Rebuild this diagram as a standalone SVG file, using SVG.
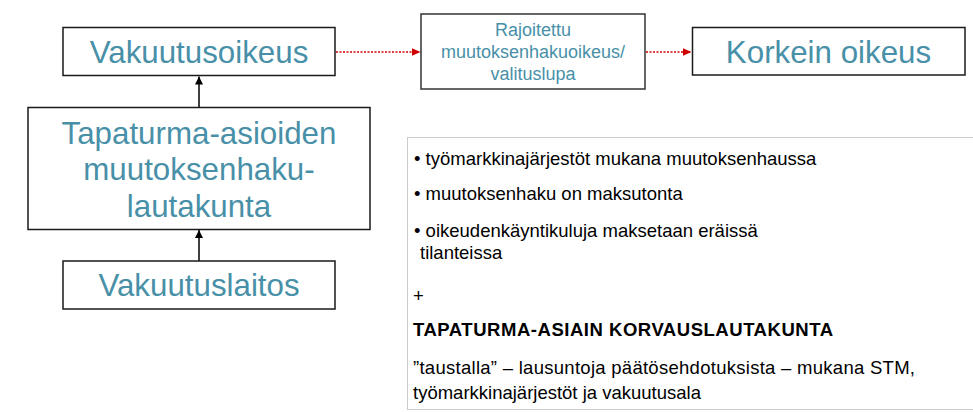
<svg xmlns="http://www.w3.org/2000/svg" width="973" height="412" viewBox="0 0 973 412">
<style>
.box{fill:#fff;stroke:#1a1a1a;stroke-width:1.5}
.big{font-family:"Liberation Sans",Arial,sans-serif;font-size:31.3px;fill:#4890A8;text-anchor:middle}
.mid{font-family:"Liberation Sans",Arial,sans-serif;font-size:18px;fill:#4890A8;text-anchor:middle}
.note{font-family:"Liberation Sans",Arial,sans-serif;font-size:18.5px;fill:#000}
.bold{font-weight:bold}
.up{stroke:#000;stroke-width:1.5;fill:none}
.red{stroke:#d00000;stroke-width:1.3;stroke-dasharray:2 1.5;fill:none}
</style>
<defs>
<marker id="ahBlack" viewBox="0 0 8 8" refX="8" refY="4" markerWidth="8" markerHeight="8" markerUnits="userSpaceOnUse" orient="auto">
<path d="M0,0 L8,4 L0,8 Z" fill="#000"/>
</marker>
<marker id="ahRed" viewBox="0 0 9 8" refX="9" refY="4" markerWidth="9" markerHeight="8" markerUnits="userSpaceOnUse" orient="auto">
<path d="M0,0 L9,4 L0,8 Z" fill="#d00000"/>
</marker>
</defs>
<rect width="973" height="412" fill="#fff"/>
<g id="connectors">
<line class="up" x1="199" y1="107" x2="199" y2="76.5" marker-end="url(#ahBlack)"/>
<line class="up" x1="199" y1="261" x2="199" y2="230" marker-end="url(#ahBlack)"/>
<line class="red" x1="336" y1="52" x2="420.5" y2="52" marker-end="url(#ahRed)"/>
<line class="red" x1="646" y1="52" x2="691.5" y2="52" marker-end="url(#ahRed)"/>
</g>
<g id="vakuutusoikeus">
<rect class="box" x="63" y="27.5" width="272" height="48"/>
<text class="big" x="199" y="62.5">Vakuutusoikeus</text>
</g>
<g id="valituslupa">
<rect class="box" x="421" y="14" width="224" height="75" style="stroke:#333"/>
<text class="mid" x="533" y="36">Rajoitettu</text>
<text class="mid" x="533" y="58">muutoksenhakuoikeus/</text>
<text class="mid" x="533" y="80">valituslupa</text>
</g>
<g id="korkein-oikeus">
<rect class="box" x="692.5" y="27.5" width="272.5" height="47.5"/>
<text class="big" x="828.5" y="63">Korkein oikeus</text>
</g>
<g id="lautakunta">
<rect class="box" x="28" y="107.5" width="342" height="122"/>
<text class="big" x="199" y="143.5">Tapaturma-asioiden</text>
<text class="big" x="199" y="180">muutoksenhaku-</text>
<text class="big" x="199" y="216.5">lautakunta</text>
</g>
<g id="vakuutuslaitos">
<rect class="box" x="63" y="261" width="272" height="48"/>
<text class="big" x="199" y="296">Vakuutuslaitos</text>
</g>
<g id="notes">
<rect x="407.5" y="137.5" width="580" height="272" fill="none" stroke="#999" stroke-width="1" stroke-dasharray="1 1"/>
<text class="note" x="414" y="165">• työmarkkinajärjestöt mukana muutoksenhaussa</text>
<text class="note" x="414" y="200">• muutoksenhaku on maksutonta</text>
<text class="note" x="414" y="237">• oikeudenkäyntikuluja maksetaan eräissä</text>
<text class="note" x="420" y="259">tilanteissa</text>
<text class="note" x="413" y="302">+</text>
<text class="note bold" x="413" y="336" textLength="420" lengthAdjust="spacing">TAPATURMA-ASIAIN KORVAUSLAUTAKUNTA</text>
<text class="note" x="413" y="374" textLength="502" lengthAdjust="spacing">”taustalla” – lausuntoja päätösehdotuksista – mukana STM,</text>
<text class="note" x="413" y="399">työmarkkinajärjestöt ja vakuutusala</text>
</g>
</svg>
